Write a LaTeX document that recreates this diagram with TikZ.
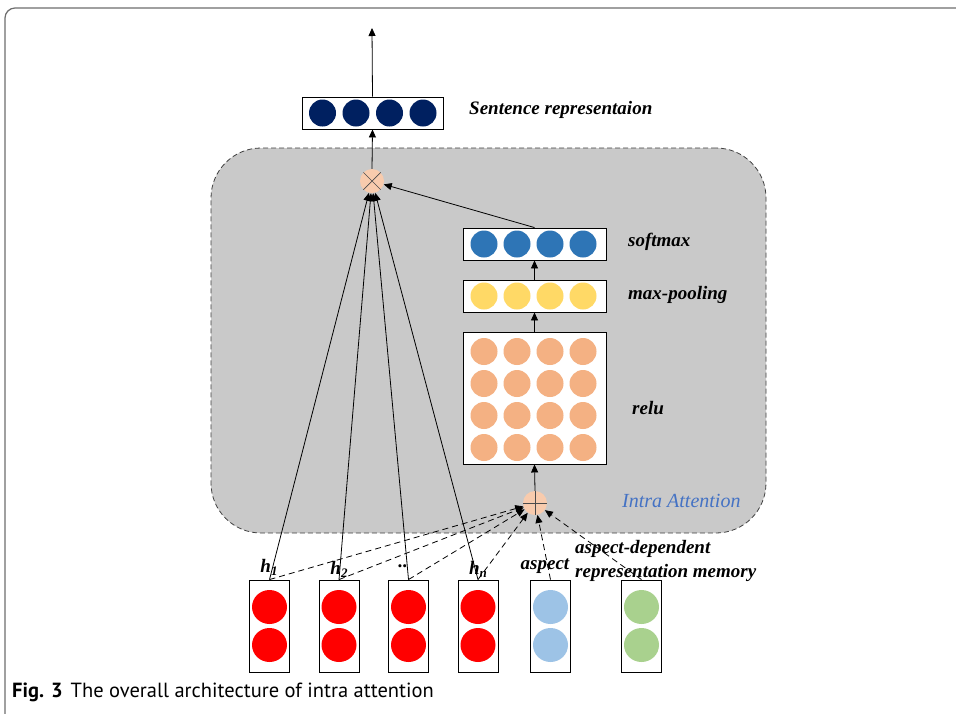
\documentclass[tikz,border=0pt]{standalone}
\usepackage{fontspec}
\setmainfont{Liberation Serif}
\newfontfamily\capfont{PT Sans}
\usetikzlibrary{arrows.meta,shapes.geometric}
\definecolor{navy}{HTML}{002060}
\definecolor{smblue}{HTML}{2E75B6}
\definecolor{mpyellow}{HTML}{FFD966}
\definecolor{reluorange}{HTML}{F4B183}
\definecolor{hred}{HTML}{FF0000}
\definecolor{asblue}{HTML}{9DC3E6}
\definecolor{memgreen}{HTML}{A9D18E}
\definecolor{opfill}{HTML}{F8CBAD}
\definecolor{regiongray}{HTML}{C9C9C9}
\definecolor{intrablue}{HTML}{4472C4}
\definecolor{framegray}{HTML}{6E6E6E}
\begin{document}
\begin{tikzpicture}[x=1pt,y=-1pt,
  vecbox/.style={draw=black, fill=white, line width=0.9pt, inner sep=0pt},
  dot/.style={circle, inner sep=0pt, minimum size=27pt},
  bigdot/.style={ellipse, inner sep=0pt, minimum width=35pt, minimum height=34pt},
  opnode/.style={circle, fill=opfill, inner sep=0pt, minimum size=24pt},
  opline/.style={draw=black!70, line width=0.7pt},
  conn/.style={line width=0.8pt, -{Triangle[length=8pt,width=7pt]}},
  dconn/.style={conn, dash pattern=on 6pt off 4pt},
  lab/.style={inner sep=0pt, font=\fontsize{19}{22}\selectfont\bfseries\itshape},
]
\useasboundingbox (0,0) rectangle (956,713);
\clip (0,0) rectangle (956,713);
\fill[white] (0,0) rectangle (956,713);
% outer frame
\draw[framegray, line width=1.2pt, rounded corners=10pt] (5,730) -- (5,8) -- (975,8);
% intra attention region
\node[draw=black!75, dash pattern=on 5pt off 3pt, line width=0.8pt, fill=regiongray,
  rounded corners=50pt, minimum width=555pt, minimum height=385pt, inner sep=0pt]
  (region) at (488.5,340.5) {};
% sentence representation
\node[vecbox, minimum width=141pt, minimum height=32pt] (sent) at (372.5,113) {};
\foreach \x in {322.5,356,389.5,423} \node[dot, fill=navy] at (\x,113) {};
\coordinate (out) at (372,28);
% softmax, max-pooling, relu
\node[vecbox, minimum width=143pt, minimum height=32pt] (soft) at (534.5,244) {};
\foreach \x in {484,517,550,583} \node[dot, fill=smblue] at (\x,244) {};
\node[vecbox, minimum width=143pt, minimum height=32pt] (pool) at (534.5,296) {};
\foreach \x in {484,517,550,583} \node[dot, fill=mpyellow] at (\x,296) {};
\node[vecbox, minimum width=143pt, minimum height=132pt] (relu) at (534.5,398) {};
\foreach \x in {484,517,550,583} \foreach \y in {351.5,383.5,415.5,447.5}
  \node[dot, fill=reluorange] at (\x,\y) {};
% operators
\node[opnode] (mul) at (372,181) {};
\draw[opline] (mul.north west) -- (mul.south east) (mul.north east) -- (mul.south west);
\node[opnode] (plus) at (535,503) {};
\draw[opline] (plus.north) -- (plus.south) (plus.west) -- (plus.east);
% bottom input boxes
\foreach \n/\x/\c in {b1/269.5/hred, b2/339/hred, b3/408.5/hred, b4/478/hred, b5/550.5/asblue, b6/641.5/memgreen}{
  \node[vecbox, minimum width=40pt, minimum height=92pt] (\n) at (\x,626) {};
  \node[bigdot, fill=\c] at (\x,607) {};
  \node[bigdot, fill=\c] at (\x,645) {};
}
% labels
\node[lab, anchor=west] (lsent) at (469,110) {Sentence representaion};
\node[lab, anchor=west] (lsoft) at (628,242) {softmax};
\node[lab, anchor=west] (lpool) at (628,295) {max-pooling};
\node[lab, anchor=west] (lrelu) at (632,408) {relu};
\node[inner sep=0pt, anchor=west, text=intrablue, font=\fontsize{20}{23}\selectfont\itshape] (lintra) at (622,501) {Intra Attention};
\node[lab] (lh1) at (269,567) {h\raisebox{-0.35ex}{\fontsize{13}{13}\selectfont 1}};
\node[lab] (lh2) at (339,569) {h\raisebox{-0.35ex}{\fontsize{13}{13}\selectfont 2}};
\node[lab] (ldots) at (403,566) {..};
\node[lab] (lhn) at (478,569) {h\raisebox{-0.35ex}{\fontsize{13}{13}\selectfont n}};
\node[lab] (lasp) at (545,566) {aspect};
\node[lab, anchor=west] (lmem1) at (575,549) {aspect-dependent};
\node[lab, anchor=west] (lmem2) at (575,573) {representation memory};
% connectors
\draw[conn] (sent.north) -- (out);
\draw[conn] (mul.north) -- (sent.south);
\draw[conn] (soft.north) -- (mul);
\draw[conn] (pool.north) -- (soft.south);
\draw[conn] (relu.north) -- (pool.south);
\draw[conn] (plus.north) -- (relu.south);
\foreach \n in {b1,b2,b3,b4} \draw[conn] (\n.north) -- (mul);
\foreach \n in {b1,b2,b3,b4,b5,b6} \draw[dconn] (\n.north) -- (plus);
% caption
\node[inner sep=0pt, anchor=west, font=\capfont\fontsize{20.5}{23}\selectfont] (cap) at (12,692)
  {\textbf{Fig. 3}\hspace{8pt}The overall architecture of intra attention};
\end{tikzpicture}
\end{document}
